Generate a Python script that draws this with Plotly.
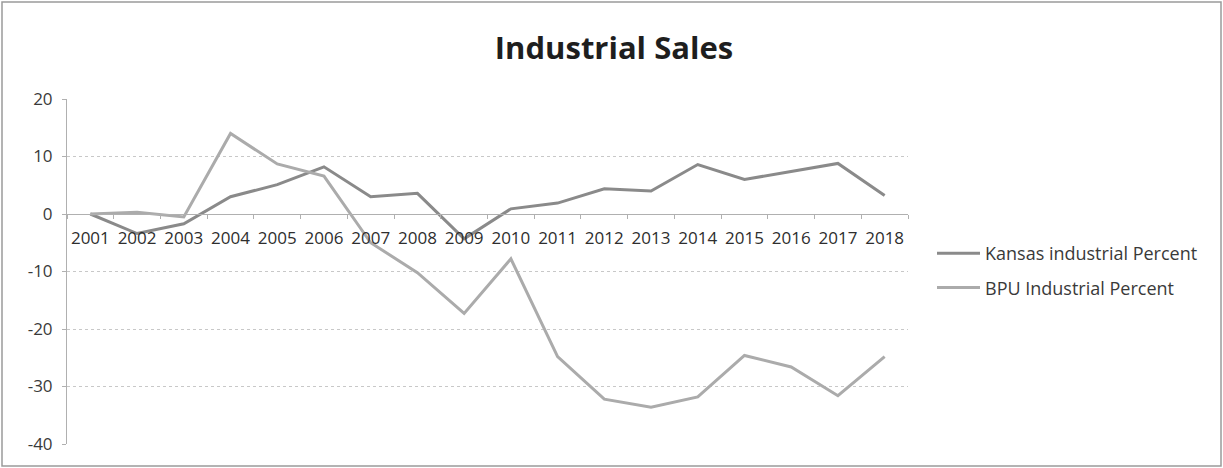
import plotly.graph_objects as go

years = [str(y) for y in range(2001, 2019)]
kansas = [0, -3.4, -1.7, 3.0, 5.1, 8.2, 3.0, 3.6, -4.3, 0.9, 1.9, 4.4, 4.0, 8.6, 6.0, 7.4, 8.8, 3.2]
bpu = [0, 0.3, -0.5, 14.0, 8.7, 6.6, -5.0, -10.2, -17.3, -7.8, -24.8, -32.2, -33.6, -31.8, -24.6, -26.6, -31.6, -24.8]
ytick_vals = [20, 10, 0, -10, -20, -30, -40]
ytick_text = ["20", "10", "0", "-10", "-20", "-30", "-40"]

fig = go.Figure()
fig.add_trace(go.Scatter(x=years, y=kansas, mode="lines", name="Kansas industrial Percent",
                         legendgroup="k", line=dict(color="#8a8a8a", width=3)))
fig.add_trace(go.Scatter(x=years, y=bpu, mode="lines", name="BPU Industrial Percent",
                         legendgroup="b", line=dict(color="#ababab", width=3)))

L, R, T, B = 67, 315, 99, 24
W, H = 1223, 468
pw, ph = W - L - R, H - T - B

fig.update_layout(
    width=W, height=H,
    margin=dict(l=L, r=R, t=T, b=B),
    paper_bgcolor="white", plot_bgcolor="white",
    font=dict(family="Open Sans, DejaVu Sans, sans-serif", size=17, color="#333333"),
    title=dict(text="<b>Industrial Sales</b>", x=614 / W, xanchor="center", y=1 - 48 / H, yanchor="middle",
               font=dict(size=31, color="#1e1e1e")),
    showlegend=True,
    legend=dict(x=(932 - L) / pw, xanchor="left", y=1 - (235 - T) / ph, yanchor="top",
                bgcolor="rgba(0,0,0,0)", font=dict(size=18, color="#3a3a3a"),
                itemwidth=43, tracegroupgap=8),
    xaxis=dict(type="category", anchor="free", position=40 / 60, showgrid=False,
               showline=True, linecolor="#b0b0b0", ticks="outside", ticklen=4, tickcolor="#b0b0b0",
               tickson="boundaries", ticklabelstandoff=9, tickangle=0,
               tickfont=dict(size=17, color="#2e2e2e"), range=[-0.5, 17.5]),
    yaxis=dict(range=[-40, 20], tickvals=ytick_vals, ticktext=ytick_text,
               showgrid=True, gridcolor="#c8c8c8", griddash="dot",
               zeroline=False, showline=True, linecolor="#b0b0b0", ticks="outside", ticklen=4,
               tickcolor="#b0b0b0", ticklabelstandoff=6, tickfont=dict(size=17, color="#3a3a3a")),
)

fig.add_shape(type="rect", xref="paper", yref="paper",
              x0=-(L - 2) / pw, x1=1 + (R - 2) / pw, y0=-(B - 2) / ph, y1=1 + (T - 2) / ph,
              line=dict(color="#9a9a9a", width=1.5), layer="below")

fig.write_html("out.html", config={"displayModeBar": False},
               post_script="document.body.style.margin='0px';")
